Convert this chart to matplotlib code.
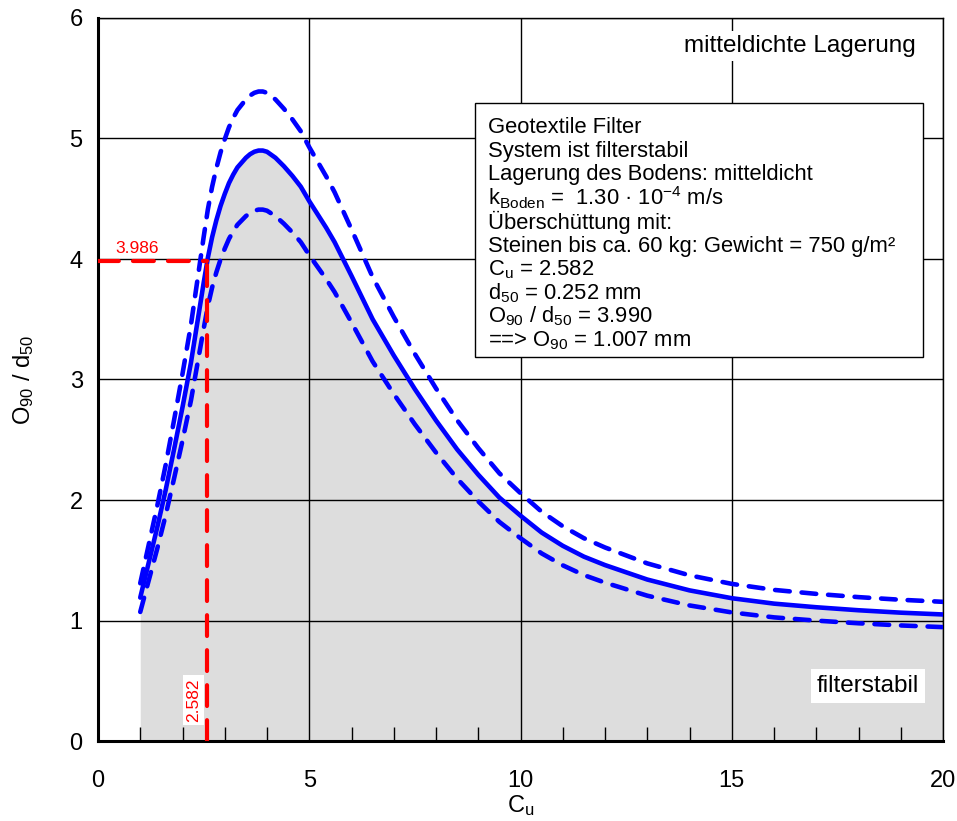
import matplotlib
matplotlib.use("Agg")
import matplotlib.pyplot as plt
from matplotlib.ticker import MultipleLocator
from matplotlib.patches import Rectangle

plt.rcParams['font.family'] = ['Liberation Sans', 'DejaVu Sans']
plt.rcParams['mathtext.default'] = 'regular'

# ---- data ----
cu = [1.0, 1.2, 1.4, 1.6, 1.8, 2.0, 2.2, 2.4, 2.5, 2.6, 2.7, 2.8, 2.9, 3.0, 3.1, 3.2,
      3.3, 3.4, 3.5, 3.6, 3.7, 3.8, 3.9, 4.0, 4.2, 4.4, 4.6, 4.8, 5.0, 5.2, 5.4, 5.6,
      5.8, 6.0, 6.5, 7.0, 7.5, 8.0, 8.5, 9.0, 9.5, 10.0, 10.5, 11.0, 11.5, 12.0, 12.5,
      13.0, 14.0, 15.0, 16.0, 17.0, 18.0, 19.0, 20.0]
ratio_main = [1.19, 1.48, 1.77, 2.08, 2.42, 2.77, 3.14, 3.58, 3.80, 4.01, 4.18, 4.32,
              4.44, 4.54, 4.63, 4.70, 4.76, 4.80, 4.84, 4.87, 4.89, 4.90, 4.90, 4.89,
              4.84, 4.77, 4.69, 4.60, 4.48, 4.37, 4.26, 4.14, 4.00, 3.86, 3.50, 3.20,
              2.92, 2.66, 2.42, 2.21, 2.02, 1.87, 1.73, 1.62, 1.53, 1.46, 1.40, 1.34,
              1.25, 1.185, 1.14, 1.11, 1.085, 1.065, 1.05]
ratio_upper = [1.309, 1.628, 1.947, 2.288, 2.662, 3.047, 3.454, 3.938, 4.180, 4.411,
               4.598, 4.752, 4.884, 4.994, 5.093, 5.170, 5.236, 5.280, 5.324, 5.357,
               5.379, 5.390, 5.390, 5.379, 5.324, 5.247, 5.159, 5.060, 4.928, 4.807,
               4.686, 4.554, 4.400, 4.246, 3.850, 3.520, 3.212, 2.926, 2.662, 2.431,
               2.222, 2.057, 1.903, 1.782, 1.683, 1.606, 1.540, 1.474, 1.375, 1.304,
               1.254, 1.221, 1.194, 1.172, 1.155]
ratio_lower = [1.071, 1.332, 1.593, 1.872, 2.178, 2.493, 2.826, 3.222, 3.420, 3.609,
               3.762, 3.888, 3.996, 4.086, 4.167, 4.230, 4.284, 4.320, 4.356, 4.383,
               4.401, 4.410, 4.410, 4.401, 4.356, 4.293, 4.221, 4.140, 4.032, 3.933,
               3.834, 3.726, 3.600, 3.474, 3.150, 2.880, 2.628, 2.394, 2.178, 1.989,
               1.818, 1.683, 1.557, 1.458, 1.377, 1.314, 1.260, 1.206, 1.125, 1.067,
               1.026, 0.999, 0.977, 0.959, 0.945]
cu_sel = 2.582
ratio_sel = 3.986
info_lines = [
    "Geotextile Filter",
    "System ist filterstabil",
    "Lagerung des Bodens: mitteldicht",
    r"k$_{Boden}$ =  1.30 · 10$^{-4}$ m/s",
    "Überschüttung mit:",
    "Steinen bis ca. 60 kg: Gewicht = 750 g/m²",
    r"C$_{u}$ = 2.582",
    r"d$_{50}$ = 0.252 mm",
    r"O$_{90}$ / d$_{50}$ = 3.990",
    r"==> O$_{90}$ = 1.007 mm",
]
xticks = [0, 5, 10, 15, 20]
yticks = [0, 1, 2, 3, 4, 5, 6]

# ---- figure ----
W, H = 957, 821
fig = plt.figure(figsize=(W / 100, H / 100), dpi=100)
L, R, T, B = 98, 943, 18, 741
ax = fig.add_axes([L / W, 1 - B / H, (R - L) / W, (B - T) / H])
FS_BOX = 15.8
FS_AX = 17
FS_NOTE = 17.5


def afx(px):
    return (px - L) / (R - L)


def afy(py):
    return (B - py) / (B - T)


ax.set_xlim(0, 20)
ax.set_ylim(0, 6)
ax.set_xticks(xticks)
ax.set_yticks(yticks)
ax.xaxis.set_minor_locator(MultipleLocator(1))
ax.tick_params(axis='both', which='major', length=0, labelsize=FS_AX)
ax.tick_params(axis='x', which='major', pad=21)
ax.tick_params(axis='y', which='major', pad=11)
ax.tick_params(axis='x', which='minor', direction='in', length=10, width=1,
               bottom=True, top=False)
ax.tick_params(axis='y', which='minor', left=False)

ax.set_axisbelow(False)
ax.grid(True, which='major', color='black', lw=1.0, zorder=2)

for s in ['left', 'bottom']:
    ax.spines[s].set_linewidth(2.2)
for s in ['right', 'top']:
    ax.spines[s].set_linewidth(1.0)

# filled area under the main curve
ax.fill_between(cu, 0, ratio_main, color='#dddddd', lw=0, zorder=1)

blue = '#0000ff'
ax.plot(cu, ratio_main, color=blue, lw=3.3, zorder=3, solid_capstyle='round',
        solid_joinstyle='round')
ax.plot(cu, ratio_upper, color=blue, lw=3.3, zorder=3, dashes=(3.2, 2.6),
        dash_capstyle='round', dash_joinstyle='round')
ax.plot(cu, ratio_lower, color=blue, lw=3.3, zorder=3, dashes=(3.2, 2.6),
        dash_capstyle='round', dash_joinstyle='round')

red = '#ff0000'
ax.plot([0, cu_sel], [ratio_sel, ratio_sel], color=red, lw=3.0, zorder=4,
        dashes=(5.0, 3.4), dash_capstyle='round')
ax.plot([cu_sel, cu_sel], [0, ratio_sel], color=red, lw=3.0, zorder=4,
        dashes=(5.0, 3.4), dash_capstyle='round')

ax.text(afx(137.5), afy(253), f"{ratio_sel:.3f}", transform=ax.transAxes,
        color=red, fontsize=12.5, ha='center', va='baseline', zorder=5)
ax.text(afx(193.5), afy(700), f"{cu_sel:.3f}", transform=ax.transAxes,
        color=red, fontsize=12.5, ha='center', va='center', rotation=90, zorder=5,
        bbox=dict(facecolor='white', edgecolor='none', pad=2))

# info box
ax.add_patch(Rectangle((afx(475), afy(357)), afx(923) - afx(475), afy(103) - afy(357),
                       transform=ax.transAxes, facecolor='white', edgecolor='black',
                       lw=1.0, zorder=6))
baselines = [133.0, 156.5, 180.0, 205.0, 228.5, 252.0, 275.5, 299.0, 322.5, 346.0]
for line, by in zip(info_lines, baselines):
    ax.text(afx(488), afy(by), line, transform=ax.transAxes,
            fontsize=FS_BOX, ha='left', va='baseline', zorder=7)

ax.text(afx(916), afy(52), "mitteldichte Lagerung", transform=ax.transAxes,
        fontsize=FS_NOTE, ha='right', va='baseline', zorder=7,
        bbox=dict(facecolor='white', edgecolor='none', pad=3))
ax.text(afx(868), afy(692), "filterstabil", transform=ax.transAxes,
        fontsize=FS_NOTE, ha='center', va='baseline', zorder=7,
        bbox=dict(facecolor='white', edgecolor='none', pad=4))

ax.set_xlabel(r"C$_{u}$", fontsize=FS_AX, va='bottom')
ax.set_ylabel(r"O$_{90}$ / d$_{50}$", fontsize=FS_AX)
ax.xaxis.set_label_coords(0.5, afy(818))
ax.yaxis.set_label_coords(afx(36), 0.5)

fig.savefig("out.png", dpi=100)
